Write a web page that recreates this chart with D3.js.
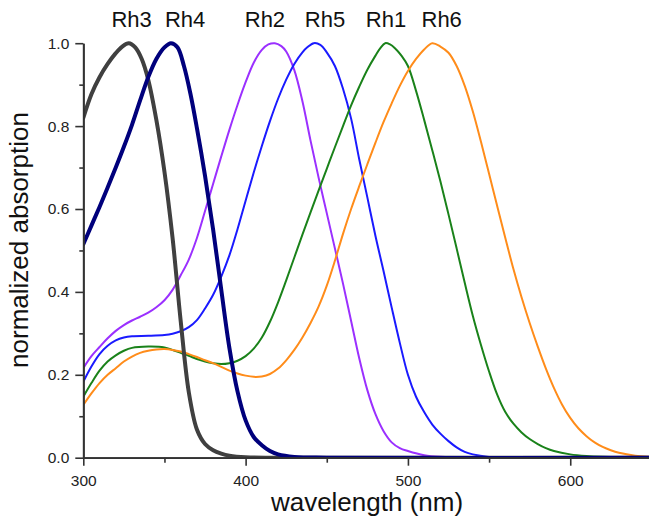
<!DOCTYPE html>
<html>
<head>
<meta charset="utf-8">
<script src="https://cdn.jsdelivr.net/npm/d3@7"></script>
<style>
  html, body { margin: 0; padding: 0; background: #fff; }
  svg { display: block; }
</style>
</head>
<body>
<svg id="chart" width="649" height="519"></svg>
<script>
// ---------------- data ----------------
const seriesNames = ["Rh2", "Rh5", "Rh1", "Rh6", "Rh3", "Rh4"];

const rh3Nm  = [300,305,310,315,320,324,328,332,336,340,345,350,355,360,365,370,375,380,385,390,400,420,650];
const rh3Abs = [0.82,0.877,0.918,0.95,0.976,0.992,1.0,0.99,0.962,0.912,0.815,0.69,0.53,0.33,0.158,0.068,0.033,0.018,0.01,0.005,0.001,0,0];

const rh4Nm  = [300,305,310,315,320,325,330,335,340,345,350,354,358,362,366,370,375,380,385,390,395,400,405,410,415,420,430,450,650];
const rh4Abs = [0.515,0.56,0.605,0.652,0.70,0.75,0.803,0.862,0.918,0.962,0.99,1.0,0.99,0.945,0.878,0.795,0.68,0.55,0.405,0.265,0.16,0.09,0.05,0.03,0.016,0.008,0.002,0,0];

const rh2Nm  = [300,305,310,315,320,325,330,335,340,345,350,355,360,365,370,375,380,385,390,395,400,405,410,414,418,422,425,430,435,440,445,450,455,460,465,470,475,480,485,490,495,500,510,520,540,650];
const rh2Abs = [0.216,0.245,0.267,0.288,0.306,0.32,0.331,0.34,0.35,0.363,0.38,0.405,0.44,0.478,0.53,0.595,0.661,0.727,0.791,0.851,0.906,0.953,0.984,0.997,1.0,0.993,0.98,0.935,0.86,0.765,0.675,0.59,0.505,0.42,0.33,0.24,0.163,0.105,0.064,0.037,0.023,0.016,0.006,0.002,0,0];

const rh5Nm  = [300,305,310,315,320,325,330,340,350,355,360,365,370,375,380,385,390,395,400,405,410,415,420,425,430,435,438,442,446,450,455,460,465,470,475,480,485,490,495,500,505,510,515,520,525,530,535,540,550,560,650];
const rh5Abs = [0.183,0.22,0.25,0.27,0.283,0.29,0.293,0.294,0.296,0.299,0.305,0.315,0.332,0.36,0.393,0.437,0.488,0.551,0.62,0.688,0.752,0.812,0.866,0.912,0.95,0.978,0.99,1.0,0.996,0.978,0.945,0.89,0.818,0.72,0.628,0.535,0.45,0.362,0.277,0.2,0.147,0.11,0.08,0.058,0.04,0.025,0.014,0.008,0.002,0,0];

const rh1Nm  = [300,305,310,315,320,325,330,340,350,355,360,365,370,375,380,385,390,395,400,405,410,415,420,425,430,435,440,445,450,455,460,465,470,475,480,483,486,489,492,496,500,505,510,515,520,525,530,535,540,545,550,555,560,565,570,575,580,585,590,600,610,620,640,650];
const rh1Abs = [0.147,0.18,0.21,0.232,0.247,0.258,0.265,0.268,0.266,0.26,0.253,0.246,0.238,0.232,0.228,0.226,0.228,0.234,0.245,0.263,0.29,0.328,0.375,0.428,0.483,0.538,0.592,0.645,0.697,0.749,0.8,0.85,0.895,0.936,0.97,0.988,1.0,0.997,0.988,0.97,0.945,0.885,0.815,0.742,0.667,0.587,0.505,0.422,0.342,0.272,0.208,0.152,0.11,0.082,0.061,0.045,0.033,0.023,0.016,0.008,0.004,0.002,0,0];

const rh6Nm  = [300,305,310,315,320,325,330,335,340,345,350,355,360,365,370,375,380,385,390,395,400,405,410,415,420,425,430,435,440,445,450,455,460,465,470,475,480,485,490,495,500,505,510,515,520,525,530,535,540,545,550,555,560,565,570,575,580,585,590,595,600,605,610,615,620,625,630,640,650];
const rh6Abs = [0.127,0.155,0.18,0.2,0.216,0.232,0.244,0.253,0.258,0.261,0.262,0.26,0.256,0.25,0.243,0.235,0.228,0.219,0.21,0.203,0.198,0.195,0.196,0.202,0.215,0.235,0.26,0.29,0.325,0.365,0.415,0.475,0.54,0.6,0.655,0.708,0.76,0.81,0.855,0.897,0.933,0.962,0.985,1.0,0.992,0.977,0.945,0.897,0.835,0.762,0.685,0.607,0.53,0.455,0.387,0.325,0.268,0.215,0.168,0.128,0.096,0.071,0.052,0.037,0.026,0.018,0.012,0.005,0.002];

const xMajorTicks = [300, 400, 500, 600];
const xMinorTicks = [350, 450, 550, 650];
const yMajorTicks = [0.0, 0.2, 0.4, 0.6, 0.8, 1.0];
const yMinorTicks = [0.1, 0.3, 0.5, 0.7, 0.9];

const xTitle = "wavelength (nm)";
const yTitle = "normalized absorption";

// label anchor wavelengths (where each name sits above the peaks)
const labelNames = ["Rh3", "Rh4", "Rh2", "Rh5", "Rh1", "Rh6"];
const labelAt    = [329.8, 362.7, 411.9, 448.9, 486.5, 520.8];

// ---------------- styling ----------------
const colors = {
  Rh3: "#404040", Rh4: "#00007c", Rh2: "#9b30ff",
  Rh5: "#1a1aff", Rh1: "#1a821a", Rh6: "#ff8c1a"
};
const widths = { Rh3: 4, Rh4: 4, Rh2: 2, Rh5: 2, Rh1: 2, Rh6: 2 };

const series = {
  Rh3: d3.zip(rh3Nm, rh3Abs), Rh4: d3.zip(rh4Nm, rh4Abs),
  Rh2: d3.zip(rh2Nm, rh2Abs), Rh5: d3.zip(rh5Nm, rh5Abs),
  Rh1: d3.zip(rh1Nm, rh1Abs), Rh6: d3.zip(rh6Nm, rh6Abs)
};

const svg = d3.select("#chart");
const x = d3.scaleLinear().domain([300, 650]).range([83.3, 651.4]);
const y = d3.scaleLinear().domain([0, 1]).range([457.7, 43.2]);

const axisColor = "#333";
const fontTick = "'Liberation Sans', Arial, sans-serif";

svg.append("defs").append("clipPath").attr("id", "clip")
  .append("rect").attr("x", 83.3).attr("y", 30).attr("width", 600).attr("height", 428.4);

const line = d3.line().x(d => x(d[0])).y(d => y(d[1])).curve(d3.curveCatmullRom.alpha(0.5));

const gLines = svg.append("g").attr("clip-path", "url(#clip)");
seriesNames.forEach(name => {
  gLines.append("path")
    .datum(series[name])
    .attr("d", line)
    .attr("fill", "none")
    .attr("stroke", colors[name])
    .attr("stroke-width", widths[name])
    .attr("stroke-linejoin", "round")
    .attr("stroke-linecap", "round");
});

function styleAxis(g) {
  g.attr("font-size", 15.5).attr("font-family", fontTick);
  g.select(".domain").attr("stroke", axisColor).attr("stroke-width", 1.8);
  g.selectAll(".tick line").attr("stroke", axisColor).attr("stroke-width", 1.6);
  g.selectAll(".tick text").attr("fill", "#222")
    .style("font-family", fontTick).style("font-size", "15.5px");
}

const gxMinor = svg.append("g").attr("transform", `translate(0,${y(0)})`)
  .call(d3.axisBottom(x).tickValues(xMinorTicks).tickSize(5).tickSizeOuter(0).tickFormat(""));
styleAxis(gxMinor);
const gx = svg.append("g").attr("transform", `translate(0,${y(0)})`)
  .call(d3.axisBottom(x).tickValues(xMajorTicks).tickSize(8).tickSizeOuter(0).tickPadding(9).tickFormat(d3.format("d")));
styleAxis(gx);

const gyMinor = svg.append("g").attr("transform", `translate(${x(300)},0)`)
  .call(d3.axisLeft(y).tickValues(yMinorTicks).tickSize(4).tickSizeOuter(0).tickFormat(""));
styleAxis(gyMinor);
const gy = svg.append("g").attr("transform", `translate(${x(300)},0)`)
  .call(d3.axisLeft(y).tickValues(yMajorTicks).tickSize(8).tickSizeOuter(0).tickPadding(6).tickFormat(d3.format(".1f")));
styleAxis(gy);

svg.append("text")
  .attr("x", 367).attr("y", 511)
  .attr("text-anchor", "middle")
  .style("font-family", fontTick).style("font-size", "26px")
  .attr("fill", "#111")
  .text(xTitle);

svg.append("text")
  .attr("transform", "translate(28,240) rotate(-90)")
  .attr("text-anchor", "middle")
  .style("font-family", fontTick).style("font-size", "26px")
  .attr("fill", "#111")
  .text(yTitle);

labelNames.forEach((name, i) => {
  svg.append("text")
    .attr("x", x(labelAt[i])).attr("y", 27)
    .attr("text-anchor", "middle")
    .style("font-family", fontTick).style("font-size", "22px")
    .attr("fill", "#111")
    .text(name);
});
</script>
</body>
</html>
